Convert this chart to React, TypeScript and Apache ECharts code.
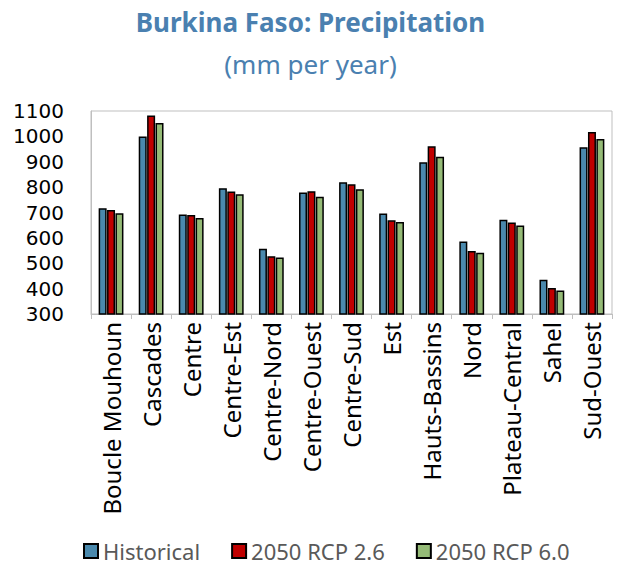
import React, { useEffect, useRef } from "react";
import * as echarts from "echarts";

const categories = [
  "Boucle Mouhoun", "Cascades", "Centre", "Centre-Est", "Centre-Nord", "Centre-Ouest",
  "Centre-Sud", "Est", "Hauts-Bassins", "Nord", "Plateau-Central", "Sahel", "Sud-Ouest",
];
const historical = [717, 1000, 692, 796, 557, 779, 819, 696, 898, 586, 671, 435, 957];
const rcp26 = [710, 1082, 690, 783, 528, 784, 811, 669, 961, 548, 661, 402, 1017];
const rcp60 = [697, 1053, 678, 772, 523, 762, 792, 663, 920, 541, 649, 393, 990];
const seriesNames = ["Historical", "2050 RCP 2.6", "2050 RCP 6.0"];
const colors = ["#4a89ad", "#c00000", "#95bb77"];

export default function App() {
  const ref = useRef<HTMLDivElement>(null);
  useEffect(() => {
    if (!ref.current) return;
    const chart = echarts.init(ref.current, null, { renderer: "svg" });
    const font = "Noto Sans";
    const mk = (name: string, data: number[], color: string) => ({
      name,
      type: "bar",
      data,
      barWidth: 8,
      barGap: "5%",
      itemStyle: { color, borderColor: "#000", borderWidth: 1.5 },
    });
    chart.setOption({
      animation: false,
      title: [
        {
          text: "Burkina Faso: Precipitation",
          left: "center",
          top: 4,
          textStyle: { fontFamily: font, fontSize: 26, fontWeight: "bold", color: "#4a80b0" },
        },
        {
          text: "(mm per year)",
          left: "center",
          top: 46,
          textStyle: { fontFamily: font, fontSize: 26, fontWeight: "normal", color: "#4a80b0" },
        },
      ],
      legend: {
        top: 540,
        left: 83,
        padding: 0,
        itemWidth: 14,
        itemHeight: 14,
        itemGap: 31,
        icon: "rect",
        textStyle: { fontFamily: font, fontSize: 22, color: "#595959" },
        data: seriesNames,
      },
      grid: {
        left: 91,
        right: 9,
        top: 111,
        bottom: 257,
        show: true,
        borderColor: "#bfbfbf",
        borderWidth: 1,
      },
      xAxis: {
        type: "category",
        data: categories,
        axisLine: { lineStyle: { color: "#bfbfbf" } },
        axisTick: { show: true, alignWithLabel: false, lineStyle: { color: "#bfbfbf" } },
        axisLabel: {
          rotate: 90,
          interval: 0,
          fontFamily: font,
          fontSize: 24,
          lineHeight: 26,
          color: "#000",
          margin: 8,
        },
      },
      yAxis: {
        type: "value",
        min: 300,
        max: 1100,
        interval: 100,
        splitLine: { show: false },
        axisLine: { show: true, lineStyle: { color: "#bfbfbf" } },
        axisTick: { show: false },
        axisLabel: {
          fontFamily: "DejaVu Sans",
          fontSize: 20,
          lineHeight: 20,
          color: "#000",
          margin: 27,
          formatter: (v: number) => String(v),
        },
      },
      series: [
        mk(seriesNames[0], historical, colors[0]),
        mk(seriesNames[1], rcp26, colors[1]),
        mk(seriesNames[2], rcp60, colors[2]),
      ],
    });
    return () => chart.dispose();
  }, []);
  return (
    <div
      ref={ref}
      style={{ position: "fixed", left: 0, top: 0, width: 621, height: 571, background: "#fff" }}
    />
  );
}
